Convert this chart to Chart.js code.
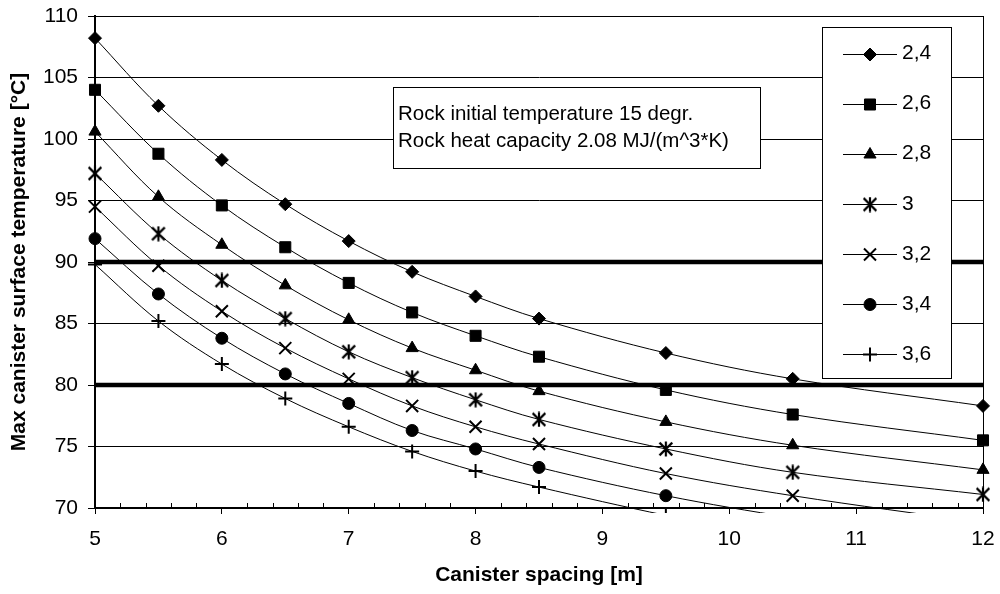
<!doctype html>
<html lang="en">
<head>
<meta charset="utf-8">
<title>Max canister surface temperature vs canister spacing</title>
<script src="https://cdn.jsdelivr.net/npm/chart.js@4.4.1/dist/chart.umd.min.js"></script>
<style>
  html, body { margin: 0; padding: 0; background: #fff; }
  canvas { display: block; }
</style>
</head>
<body>
<canvas id="chart" width="1000" height="594"></canvas>
<script>
// canister spacing [m]
const spacing = [5, 5.5, 6, 6.5, 7, 7.5, 8, 8.5, 9.5, 10.5, 12];

// one curve per rock thermal conductivity (legend labels)
const seriesNames = ['2,4', '2,6', '2,8', '3', '3,2', '3,4', '3,6'];
const t24 = [108.2, 102.7, 98.3, 94.7, 91.7, 89.2, 87.2, 85.4, 82.6, 80.5, 78.3];
const t26 = [104.0, 98.8, 94.6, 91.2, 88.3, 85.9, 84.0, 82.3, 79.6, 77.6, 75.5];
const t28 = [100.6, 95.3, 91.4, 88.1, 85.3, 83.0, 81.2, 79.5, 77.0, 75.1, 73.1];
const t30 = [97.2, 92.3, 88.5, 85.4, 82.7, 80.6, 78.8, 77.2, 74.8, 72.9, 71.1];
const t32 = [94.5, 89.7, 86.0, 83.0, 80.5, 78.3, 76.6, 75.2, 72.8, 71.0, 68.8];
const t34 = [91.9, 87.4, 83.8, 80.9, 78.5, 76.3, 74.8, 73.3, 71.0, 69.2, 66.9];
const t36 = [89.8, 85.2, 81.7, 78.9, 76.6, 74.6, 73.0, 71.7, 69.4, 67.4, 65.1];
const seriesValues = [t24, t26, t28, t30, t32, t34, t36];

// temperature limits drawn as thick lines
const limitLevels = [90, 80];

const yTicks = [70, 75, 80, 85, 90, 95, 100, 105, 110];
const noteLines = ['Rock initial temperature 15 degr.', 'Rock heat capacity 2.08 MJ/(m^3*K)'];

const FONT = "'Liberation Sans', Arial, sans-serif";

function asterisk(size) {
  const c = document.createElement('canvas');
  c.width = c.height = size;
  const g = c.getContext('2d');
  const m = size / 2, r = size / 2 - 0.5, d = r * 0.85;
  g.strokeStyle = '#000';
  g.lineWidth = 2.2;
  g.beginPath();
  g.moveTo(m, m - r); g.lineTo(m, m + r);
  g.moveTo(m - d, m - d); g.lineTo(m + d, m + d);
  g.moveTo(m + d, m - d); g.lineTo(m - d, m + d);
  g.stroke();
  return c;
}

const MARKERS = [
  { pointStyle: 'rectRot',  radius: 6.5, borderWidth: 1 },
  { pointStyle: 'rect',     radius: 7.8, borderWidth: 1 },
  { pointStyle: 'triangle', radius: 7,   borderWidth: 1 },
  { pointStyle: asterisk(16), radius: 8, borderWidth: 1 },
  { pointStyle: 'crossRot', radius: 8.5, borderWidth: 2 },
  { pointStyle: 'circle',   radius: 6,   borderWidth: 1 },
  { pointStyle: 'cross',    radius: 7,   borderWidth: 2 },
];

const datasets = seriesNames.map((name, i) => ({
  label: name,
  data: spacing.map((x, j) => ({ x, y: seriesValues[i][j] })),
  borderColor: '#000',
  backgroundColor: '#000',
  borderWidth: 1,
  tension: 0.35,
  pointStyle: MARKERS[i].pointStyle,
  pointRadius: MARKERS[i].radius,
  pointBorderWidth: MARKERS[i].borderWidth,
  pointBackgroundColor: '#000',
  pointBorderColor: '#000',
  clip: { left: 12, right: 12, top: 12, bottom: 5 },
  order: 1,
}));

for (const lvl of limitLevels) {
  datasets.push({
    label: 'limit ' + lvl,
    data: [{ x: spacing[0], y: lvl }, { x: spacing[spacing.length - 1], y: lvl }],
    borderColor: '#000',
    borderWidth: 4.5,
    pointRadius: 0,
    tension: 0,
    order: 5,
  });
}

// minor x ticks, right frame line, note box and legend box
const decorations = {
  id: 'decorations',
  afterDatasetsDraw(chart) {
    const { ctx, chartArea: a, scales: { x } } = chart;
    ctx.save();
    ctx.strokeStyle = '#000';
    ctx.lineWidth = 1;
    ctx.beginPath();
    for (let v = x.min; v <= x.max + 1e-9; v += 0.2) {
      if (Math.abs(v - Math.round(v)) < 1e-6) continue;
      const px = Math.round(x.getPixelForValue(v)) + 0.5;
      ctx.moveTo(px, a.bottom - 5);
      ctx.lineTo(px, a.bottom);
    }
    const rx = Math.round(a.right) + 0.5;
    ctx.moveTo(rx, a.top);
    ctx.lineTo(rx, a.bottom);
    ctx.stroke();

    // note box
    ctx.fillStyle = '#fff';
    ctx.fillRect(393, 87, 368, 82);
    ctx.strokeRect(393.5, 87.5, 367, 81);
    ctx.fillStyle = '#000';
    ctx.font = '20.5px ' + FONT;
    ctx.textBaseline = 'middle';
    ctx.textAlign = 'left';
    noteLines.forEach((t, i) => ctx.fillText(t, 398, 114 + i * 27.5));

    // legend box
    ctx.fillStyle = '#fff';
    ctx.fillRect(822, 27, 130, 352);
    ctx.strokeRect(822.5, 27.5, 129, 351);
    ctx.font = '21px ' + FONT;
    seriesNames.forEach((name, i) => {
      const y = 53.5 + i * 50.1;
      ctx.strokeStyle = '#000';
      ctx.lineWidth = 1;
      ctx.beginPath();
      ctx.moveTo(843, Math.round(y) + 0.5);
      ctx.lineTo(897, Math.round(y) + 0.5);
      ctx.stroke();
      ctx.fillStyle = '#000';
      ctx.lineWidth = MARKERS[i].borderWidth;
      Chart.helpers.drawPoint(ctx, {
        pointStyle: MARKERS[i].pointStyle,
        radius: MARKERS[i].radius,
        rotation: 0,
        borderWidth: MARKERS[i].borderWidth,
      }, 870, Math.round(y) + 0.5);
      ctx.fillStyle = '#000';
      ctx.fillText(name, 902, y);
    });
    ctx.restore();
  },
};

new Chart(document.getElementById('chart'), {
  type: 'line',
  data: { datasets },
  plugins: [decorations],
  options: {
    responsive: false,
    animation: false,
    events: [],
    layout: { padding: { left: 0, right: 17, top: 16, bottom: 0 } },
    plugins: {
      legend: { display: false },
      tooltip: { enabled: false },
    },
    scales: {
      x: {
        type: 'linear',
        min: 5,
        max: 12,
        afterFit: (s) => { s.height = 86; s.paddingLeft = 0; s.paddingRight = 0; },
        ticks: { stepSize: 1, color: '#000', font: { family: FONT, size: 21 }, padding: 13, maxRotation: 0 },
        grid: { drawOnChartArea: false, color: '#000', lineWidth: 1, tickLength: 6 },
        border: { color: '#000', width: 2 },
        title: {
          display: true,
          text: 'Canister spacing [m]',
          color: '#000',
          font: { family: FONT, size: 21, weight: 'bold' },
          padding: { top: 0, bottom: 6 },
        },
      },
      y: {
        min: 70,
        max: 110,
        afterFit: (s) => { s.width = 95; s.paddingTop = 0; s.paddingBottom = 0; },
        afterBuildTicks: (s) => { s.ticks = yTicks.map((v) => ({ value: v })); },
        ticks: { color: '#000', font: { family: FONT, size: 21 }, padding: 10 },
        grid: { color: '#000', lineWidth: 1, tickLength: 7 },
        border: { color: '#000', width: 2 },
        title: {
          display: true,
          text: 'Max canister surface temperature [°C]',
          color: '#000',
          font: { family: FONT, size: 21, weight: 'bold' },
          padding: { top: 7, bottom: 0 },
        },
      },
    },
  },
});
</script>
</body>
</html>
